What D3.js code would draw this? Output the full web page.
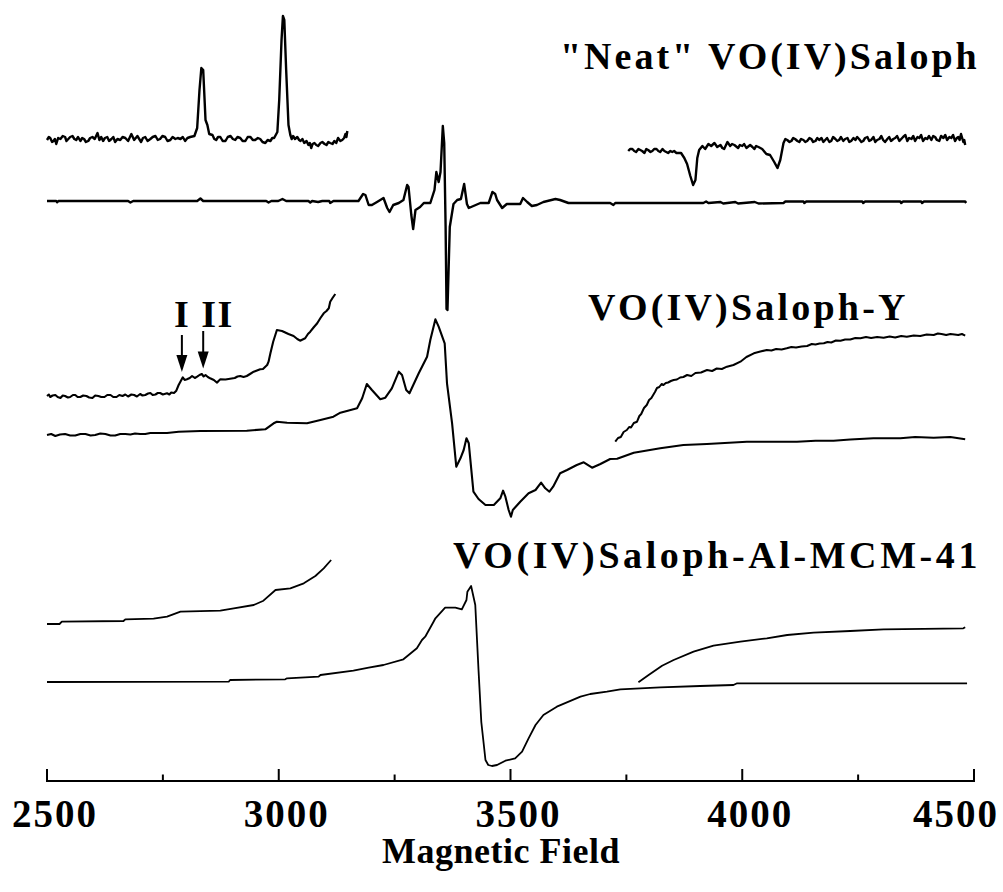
<!DOCTYPE html>
<html>
<head>
<meta charset="utf-8">
<script src="https://cdn.jsdelivr.net/npm/d3@7"></script>
<style>
  html, body { margin: 0; padding: 0; background: #fff; }
  svg { display: block; }
  text { font-family: "Liberation Serif", "Times New Roman", serif; font-weight: bold; fill: #000; }
</style>
</head>
<body>
<svg id="chart" width="1003" height="892"></svg>
<script>
// EPR spectra: [magnetic field (G), derivative signal (a.u.)], each drawn about its own baseline.

// "Neat" VO(IV)Saloph — expanded low-field wing
const neatLowWing = [
  [2500,0],[2504,0.3],[2507,0.2],[2511,-0.2],[2514,-0.1],[2517,0.1],[2520,-0.4],[2524,0.2],[2529,0.1],
  [2534,0.4],[2539,0.3],[2542,-0.1],[2546,0.1],[2550,0.3],[2555,0.4],[2559,0.1],[2563,0],[2567,0.3],
  [2572,-0.1],[2576,0.2],[2580,0.1],[2584,-0.2],[2589,-0.1],[2593,0.2],[2598,0.3],[2603,0.1],[2609,0.7],
  [2613,0],[2617,0.3],[2621,-0.1],[2625,0.2],[2630,0.3],[2634,-0.1],[2639,0.1],[2643,0.3],[2647,-0.2],
  [2652,0.1],[2658,0],[2663,0.3],[2669,0.2],[2675,-0.1],[2682,0.6],[2688,0],[2695,0.4],[2699,0.1],
  [2703,-0.2],[2707,0.2],[2712,0.3],[2717,-0.1],[2723,0.1],[2728,0.3],[2734,0.4],[2739,0],[2744,0.1],
  [2749,0.4],[2755,0.3],[2760,-0.1],[2766,0],[2771,0.3],[2777,0.1],[2782,0.2],[2788,0.1],[2793,0.3],
  [2798,-0.1],[2803,0.2],[2809,0.3],[2818,0.4],
  [2824,1.2],[2829,5.0],[2833,7.2],[2837,7.0],[2842,2.0],[2846,1.5],[2850,0.6],[2857,0.5],[2861,0.1],
  [2865,0],[2869,0.3],[2874,0.3],[2879,-0.1],[2885,-0.1],[2890,0.3],[2896,0.4],[2901,0.1],[2906,0],
  [2911,0.3],[2917,0.2],[2922,-0.1],[2928,-0.1],[2933,0.3],[2939,0.3],[2944,0],[2949,0],[2955,0.2],
  [2960,0.1],[2965,-0.2],[2971,-0.3],[2976,0],[2982,-0.1],[2986,0.2],[2990,0.2],[2997,0.8],[3001,4.0],
  [3006,10.0],[3009,12.4],[3012,12.0],[3016,7.0],[3021,1.5],[3025,0.5],[3028,0.1],[3031,0.4],[3035,0.1],
  [3040,0.3],[3044,0],[3047,-0.1],[3051,0.1],[3055,-0.3],[3060,-0.1],[3064,-0.5],[3067,-0.3],
  [3070,-0.8],[3073,-0.4],[3077,-0.3],[3081,-0.5],[3085,-0.6],[3090,-0.3],[3094,-0.2],[3099,-0.4],
  [3103,-0.5],[3107,-0.2],[3111,-0.3],[3116,-0.4],[3120,-0.1],[3124,-0.3],[3128,0.2],[3133,-0.1],
  [3137,0],[3141,0.2],[3144,0.6],[3146,0.3],[3148,0.9]
];

// "Neat" VO(IV)Saloph — expanded high-field wing
const neatHighWing = [
  [3754,-0.1],[3758,0.1],[3763,0.1],[3767,-0.1],[3771,-0.2],[3776,0.1],[3780,0],[3784,-0.1],[3789,-0.3],
  [3793,0.1],[3797,0],[3802,-0.2],[3806,-0.1],[3810,0.1],[3815,0.1],[3819,-0.1],[3823,-0.2],[3828,0.1],
  [3832,-0.1],[3836,-0.2],[3840,-0.3],[3845,-0.1],[3849,-0.2],[3853,-0.1],[3858,-0.3],[3868,-0.3],
  [3875,-0.8],[3881,-1.4],[3888,-2.6],
  [3894,-3.5],[3899,-3.0],[3903,-0.8],[3907,0],[3914,0.4],[3920,0.1],[3927,0.6],[3933,0.4],[3940,0.7],
  [3946,0.3],[3953,0.5],[3957,0.2],[3961,0.1],[3968,0.8],[3974,0.4],[3978,0.6],[3983,0.5],[3991,0.2],
  [3995,0.5],[4000,0.4],[4004,0.6],[4009,0.2],
  [4017,0.5],[4022,0.3],[4026,0.1],[4030,0.4],[4035,0.3],[4043,0.1],[4052,-0.4],[4060,-0.5],[4069,-1.2],
  [4076,-1.8],[4082,-1.0],[4089,0.7],[4093,1.1],[4097,1.0],[4102,0.8],[4106,0.9],[4110,1.2],[4114,1.1],
  [4119,0.9],[4123,0.8],[4127,1.1],[4132,1.0],[4136,0.8],[4140,0.9],[4145,1.2],[4149,1.1],[4153,0.8],
  [4158,0.9],[4162,1.2],[4166,1.0],[4171,1.2],[4175,0.8],[4179,1.0],[4183,1.2],[4188,0.8],[4192,0.9],
  [4196,1.3],[4201,1.1],[4205,0.9],[4209,1.0],[4213,1.3],[4218,0.9],[4222,1.1],[4227,1.2],[4231,0.8],
  [4235,0.9],[4240,1.2],[4244,1.0],[4248,1.3],[4252,1.1],[4257,0.8],[4261,0.9],[4265,1.2],[4270,1.3],
  [4274,0.9],[4278,1.0],[4283,1.3],[4287,0.8],[4291,1.0],[4296,1.1],[4300,1.4],[4304,1.0],[4308,0.8],
  [4313,1.1],[4317,1.3],[4321,0.9],[4326,1.1],[4330,1.2],[4334,1.4],[4339,0.9],[4343,1.1],[4347,1.3],
  [4352,1.5],[4356,0.9],[4360,1.2],[4365,1.1],[4369,1.4],[4373,0.9],[4378,1.3],[4382,1.2],[4386,1.5],
  [4390,0.9],[4395,1.2],[4399,1.1],[4403,1.4],[4408,1.0],[4412,1.4],[4416,1.3],[4420,1.0],[4425,0.9],
  [4429,1.4],[4434,1.2],[4438,1.5],[4442,1.0],[4447,1.3],[4451,1.2],[4455,1.5],[4459,0.9],[4463,1.2],
  [4466,1.3],[4469,1.0],[4472,1.6],[4477,0.8],[4479,1.0],[4481,0.5]
];

// "Neat" VO(IV)Saloph — full sweep
const neatFull = [
  [2500,0],[2520,0],[2522,-0.12],[2525,0],[2675,0],[2680,-0.15],[2686,0],[2824,0],[2831,0.25],[2837,0],
  [2973,0],[2978,-0.15],[2984,0],[2999,0],[3008,0.2],[3016,0],[3064,0],[3068,-0.15],[3072,0],
  [3085,-0.1],[3094,0],[3109,0],[3111,-0.2],[3118,0],[3172,0],[3182,0.7],[3187,0.6],[3194,-0.4],
  [3201,-0.4],[3212,-0.1],[3226,0.3],[3234,-0.7],[3239,-1.1],[3247,-0.4],[3259,-0.2],[3269,0.1],
  [3277,1.6],[3280,1.4],[3286,-1.4],[3290,-2.8],[3295,-0.9],[3305,-0.6],[3313,-0.2],[3327,-0.2],
  [3336,1.1],[3340,2.9],[3345,1.9],[3349,2.9],[3354,7.5],[3357,5.8],[3360,-2.6],[3362,-10.8],
  [3364,-10.9],[3369,-2.6],[3377,-0.3],[3385,0.1],[3393,0.2],[3400,1.7],[3406,-0.3],[3410,-0.7],
  [3420,-0.5],[3435,-0.2],[3453,-0.2],[3461,0.9],[3467,0.7],[3471,0.1],[3482,-0.7],[3492,-0.3],
  [3521,-0.3],[3527,0.3],[3536,-0.1],[3546,-0.5],[3557,-0.4],[3571,-0.1],[3597,0.2],[3607,0.1],
  [3625,-0.2],[3636,-0.2],[3715,-0.2],[3722,-0.4],[3726,-0.2],[3916,-0.2],[3922,-0.05],[3927,-0.2],
  [3953,-0.1],[3959,-0.25],[3985,-0.1],[3991,-0.25],[4027,-0.1],[4035,-0.25],[4089,-0.2],[4093,-0.05],
  [4132,-0.05],[4134,-0.2],[4138,-0.05],[4259,-0.05],[4261,-0.2],[4265,-0.05],[4341,-0.05],
  [4343,-0.2],[4347,-0.05],[4386,-0.05],[4388,-0.2],[4392,-0.05],[4481,-0.05],[4483,-0.2]
];

// VO(IV)Saloph-Y — expanded low-field wing
const zeoLowWing = [
  [2500,0],[2504,0.15],[2507,-0.1],[2512,0.05],[2518,0.1],[2523,-0.1],[2529,-0.2],[2534,0.05],[2539,0],
  [2545,-0.15],[2550,-0.1],[2556,0.1],[2561,0.1],[2566,-0.1],[2572,-0.1],[2578,0.05],[2585,0],
  [2591,-0.15],[2598,-0.2],[2604,0.05],[2611,0],[2617,-0.1],[2624,-0.1],[2630,0.1],[2637,0.1],
  [2643,-0.1],[2650,-0.1],[2656,0.1],[2663,0],[2669,0.15],[2675,-0.05],[2682,0.15],[2688,0.1],
  [2694,-0.05],[2701,0.2],[2706,0.05],[2712,0.1],[2718,0.25],[2723,0.3],[2728,0.1],[2734,0.15],
  [2739,0.3],[2744,0.3],[2750,0.15],[2759,0.27],[2764,0.15],[2768,0.35],[2774,0.3],[2779,0.53],[2784,1.1],
  [2793,1.87],[2797,1.6],[2802,1.67],[2808,1.8],[2813,2.0],[2819,1.8],[2824,1.93],[2829,2.1],[2834,2.2],
  [2838,1.95],[2842,2.1],[2847,1.9],[2852,1.77],[2860,1.6],[2867,1.33],[2870,1.5],
  [2874,1.67],[2885,1.65],[2895,1.73],[2905,1.8],[2911,1.95],[2917,2.0],[2924,1.9],[2931,2.0],
  [2938,2.2],[2946,2.43],[2953,2.55],[2960,2.67],[2966,2.7],[2971,2.93],[2975,3.1],[2978,3.43],
  [2982,4.27],[2988,5.43],[2996,6.6],[3007,6.5],[3021,6.2],[3032,6.0],[3040,5.7],[3046,5.53],[3057,5.77],
  [3063,6.2],[3068,6.43],[3076,6.9],[3083,7.27],[3090,7.8],[3097,8.27],[3103,8.5],[3108,8.77],
  [3111,9.43],[3116,9.8],[3122,10.2]
];

// VO(IV)Saloph-Y — full sweep
const zeoFull = [
  [2500,0],[2509,0.1],[2518,-0.1],[2528,0.05],[2539,0.1],[2550,-0.05],[2561,-0.05],[2572,0.1],
  [2583,0.1],[2594,-0.05],[2604,0],[2615,0.15],[2626,0.1],[2637,-0.05],[2647,-0.05],[2658,0.1],
  [2669,0.1],[2680,0.05],[2690,0.15],[2701,0.1],[2712,0.1],[2723,0.2],[2734,0.2],[2759,0.2],
  [2784,0.33],[2831,0.4],[2931,0.43],[2971,0.57],
  [2989,1.17],[2996,1.33],[3018,1.23],[3061,1.17],[3090,1.5],[3118,1.83],[3133,2.23],[3161,2.57],
  [3169,2.67],[3180,3.67],[3190,5.1],[3201,4.5],[3219,3.57],[3230,3.73],[3244,4.67],[3259,6.33],
  [3266,6.0],[3275,4.5],[3282,4.17],[3302,6.17],[3320,7.83],[3327,9.5],[3338,11.57],[3345,10.83],
  [3358,9.17],[3363,5.17],[3374,1.17],[3383,-3.17],[3392,-2.33],[3399,-1.5],[3405,-0.33],
  [3410,-0.83],[3420,-5.67],[3431,-6.4],[3446,-7.0],[3464,-7.0],[3478,-6.33],[3484,-5.57],
  [3489,-6.17],[3496,-7.5],[3501,-8.17],[3505,-7.5],[3521,-6.67],[3539,-5.83],[3554,-5.5],
  [3566,-4.77],[3575,-5.33],[3584,-5.67],[3592,-5.17],[3607,-3.83],[3622,-3.5],[3643,-3.0],
  [3658,-2.73],[3676,-3.27],[3694,-2.9],[3715,-2.4],[3730,-2.37],[3766,-1.77],[3823,-1.33],
  [3873,-1.0],[3924,-0.9],[4010,-0.67],[4118,-0.67],[4158,-0.57],[4197,-0.57],[4233,-0.45],
  [4283,-0.33],[4341,-0.33],[4373,-0.2],[4413,-0.27],[4449,-0.2],[4481,-0.43]
];

// VO(IV)Saloph-Y — expanded high-field wing
const zeoHighWing = [
  [3726,0.03],[3732,0.4],[3738,0.5],[3744,1.0],[3751,1.2],[3756,1.5],[3760,1.45],[3766,1.9],[3773,2.03],
  [3778,2.6],[3782,2.8],[3788,3.4],[3794,3.7],[3799,4.2],[3804,4.4],
  [3812,5.03],[3816,5.4],[3821,5.5],[3826,5.8],[3830,5.7],[3835,5.9],[3840,5.95],[3846,6.1],[3852,6.2],
  [3859,6.25],[3866,6.45],[3873,6.5],[3881,6.7],[3890,6.6],
  [3899,6.9],[3911,6.95],[3924,7.2],[3935,7.1],[3945,7.35],[3956,7.3],[3967,7.53],[3981,7.7],
  [3996,8.03],[4009,8.5],[4025,8.87],[4039,9.05],[4053,9.2],[4063,9.15],[4073,9.3],[4085,9.25],
  [4096,9.37],[4106,9.5],[4116,9.45],[4128,9.55],[4140,9.6],[4150,9.8],[4158,9.75],[4167,9.85],
  [4176,9.87],[4184,10.0],[4192,9.95],[4202,10.15],[4212,10.13],[4222,10.25],[4233,10.25],
  [4244,10.4],[4255,10.37],[4267,10.5],[4278,10.4],[4291,10.5],[4305,10.43],[4318,10.55],
  [4330,10.45],[4343,10.6],[4355,10.53],[4370,10.65],[4384,10.6],[4398,10.75],[4413,10.7],
  [4422,10.85],[4430,10.8],[4440,10.7],[4449,10.8],[4458,10.75],[4466,10.7],[4474,10.8],[4481,10.63]
];

// VO(IV)Saloph-Al-MCM-41 — expanded low-field wing
const mcmLowWing = [
  [2500,0],[2527,0],[2532,0.23],[2665,0.3],[2669,0.47],[2730,0.53],[2759,0.73],[2788,1.23],
  [2874,1.33],[2903,1.57],[2946,1.9],[2967,2.33],[2993,3.4],[3025,3.57],[3054,4.07],[3079,4.8],
  [3097,5.57],[3113,6.4]
];

// VO(IV)Saloph-Al-MCM-41 — full sweep
const mcmFull = [
  [2500,0],[2892,0.03],[2895,0.2],[3014,0.27],[3018,0.37],[3086,0.53],[3090,0.7],[3161,1.13],
  [3194,1.43],[3226,1.7],[3269,2.27],[3298,3.37],[3309,4.2],[3316,4.53],[3334,6.03],[3338,6.37],
  [3359,7.43],[3381,7.43],[3395,7.27],[3405,8.2],[3407,9.03],[3415,9.6],[3424,7.7],[3431,1.2],
  [3437,-4.0],[3442,-6.1],[3446,-7.8],[3452,-8.3],[3460,-8.4],[3471,-8.3],[3489,-7.87],
  [3510,-7.63],[3525,-6.97],[3539,-5.63],[3554,-4.3],[3571,-3.3],[3600,-2.47],[3651,-1.47],
  [3672,-1.2],[3708,-0.97],[3737,-0.73],[3780,-0.63],[3823,-0.53],[3909,-0.4],[3981,-0.3],
  [3989,-0.13],[4485,-0.13]
];

// VO(IV)Saloph-Al-MCM-41 — expanded high-field wing
const mcmHighWing = [
  [3776,-0.03],[3798,0.7],[3827,1.63],[3852,2.2],[3895,3.03],[3938,3.63],[3996,4.03],[4053,4.37],
  [4097,4.7],[4154,4.93],[4233,5.1],[4305,5.27],[4477,5.37],[4481,5.47]
];

// Baseline of each trace on the stacked intensity axis (a.u.)
const traceNames   = ["neatLowWing","neatHighWing","neatFull","zeoLowWing","zeoFull","zeoHighWing","mcmLowWing","mcmFull","mcmHighWing"];
const traceData    = [neatLowWing, neatHighWing, neatFull, zeoLowWing, zeoFull, zeoHighWing, mcmLowWing, mcmFull, mcmHighWing];
const traceOffsets = [64.1, 63.1, 58.0, 38.5, 34.6, 33.9, 15.7, 9.9, 9.9];
const traceWidths  = [2.4, 2.4, 2.4, 2.1, 2.1, 2.0, 1.8, 1.8, 1.8];

// Sample labels
const sampleLabels = ["\"Neat\" VO(IV)Saloph", "VO(IV)Saloph-Y", "VO(IV)Saloph-Al-MCM-41"];

// Axis ticks
const majorTicks = [2500, 3000, 3500, 4000, 4500];
const minorTicks = [2750, 3250, 3750, 4250];

// Marked hyperfine features on the Saloph-Y wing
const featureMarks = [{ name: "I", field: 2791 }, { name: "II", field: 2837 }];

const svg = d3.select("#chart");
const x = d3.scaleLinear().domain([2500, 4500]).range([47, 974]);
const y = d3.scaleLinear().domain([0, 78]).range([781, 1]);

// Spectra
traceData.forEach((data, i) => {
  const off = traceOffsets[i];
  const line = d3.line().x(d => x(d[0])).y(d => y(off + d[1]));
  svg.append("path")
    .attr("class", traceNames[i])
    .attr("d", line(data))
    .attr("fill", "none")
    .attr("stroke", "#000")
    .attr("stroke-width", traceWidths[i])
    .attr("stroke-linejoin", "round");
});

// Sample labels
const labelPos = [
  { x: 560, y: 69 },
  { x: 588, y: 320 },
  { x: 453, y: 568 }
];
const labelSpacing = [3.0, 3.2, 3.6];
sampleLabels.forEach((t, i) => {
  svg.append("text")
    .attr("x", labelPos[i].x).attr("y", labelPos[i].y)
    .attr("font-size", 38)
    .style("letter-spacing", labelSpacing[i] + "px")
    .text(t);
});

// Feature arrows and their labels
svg.append("text")
  .attr("x", 174).attr("y", 327)
  .attr("font-size", 38)
  .style("letter-spacing", "1.5px")
  .text(featureMarks.map(d => d.name).join(" "));
const arrowTops = [335, 331];
featureMarks.forEach((m, i) => {
  const ax = x(m.field);
  const tipY = 372 - i * 3.5;
  svg.append("line")
    .attr("x1", ax).attr("x2", ax)
    .attr("y1", arrowTops[i]).attr("y2", tipY - 14)
    .attr("stroke", "#000").attr("stroke-width", 2);
  svg.append("path")
    .attr("d", `M${ax - 5.5},${tipY - 17} L${ax + 5.5},${tipY - 17} L${ax},${tipY} Z`)
    .attr("fill", "#000");
});

// Field axis
const axisY = 781;
svg.append("line")
  .attr("x1", x(2500) - 1).attr("x2", x(4500) + 1)
  .attr("y1", axisY).attr("y2", axisY)
  .attr("stroke", "#000").attr("stroke-width", 2.2);
majorTicks.forEach(v => {
  svg.append("line")
    .attr("x1", x(v)).attr("x2", x(v))
    .attr("y1", axisY).attr("y2", axisY - 12)
    .attr("stroke", "#000").attr("stroke-width", 2);
});
minorTicks.forEach(v => {
  svg.append("line")
    .attr("x1", x(v)).attr("x2", x(v))
    .attr("y1", axisY).attr("y2", axisY - 6.5)
    .attr("stroke", "#000").attr("stroke-width", 2);
});
majorTicks.forEach(v => {
  const t = svg.append("text")
    .attr("y", 827)
    .attr("font-size", 39)
    .style("letter-spacing", "2px")
    .text(d3.format("d")(v));
  const w = t.node().getComputedTextLength();
  let cx = x(v) + 8;
  if (cx + w / 2 > 999) cx = 999 - w / 2;
  t.attr("x", cx - w / 2);
});

// Axis title
svg.append("text")
  .attr("x", 501).attr("y", 863)
  .attr("text-anchor", "middle")
  .attr("font-size", 36)
  .style("letter-spacing", "0.5px")
  .text("Magnetic Field");
</script>
</body>
</html>
